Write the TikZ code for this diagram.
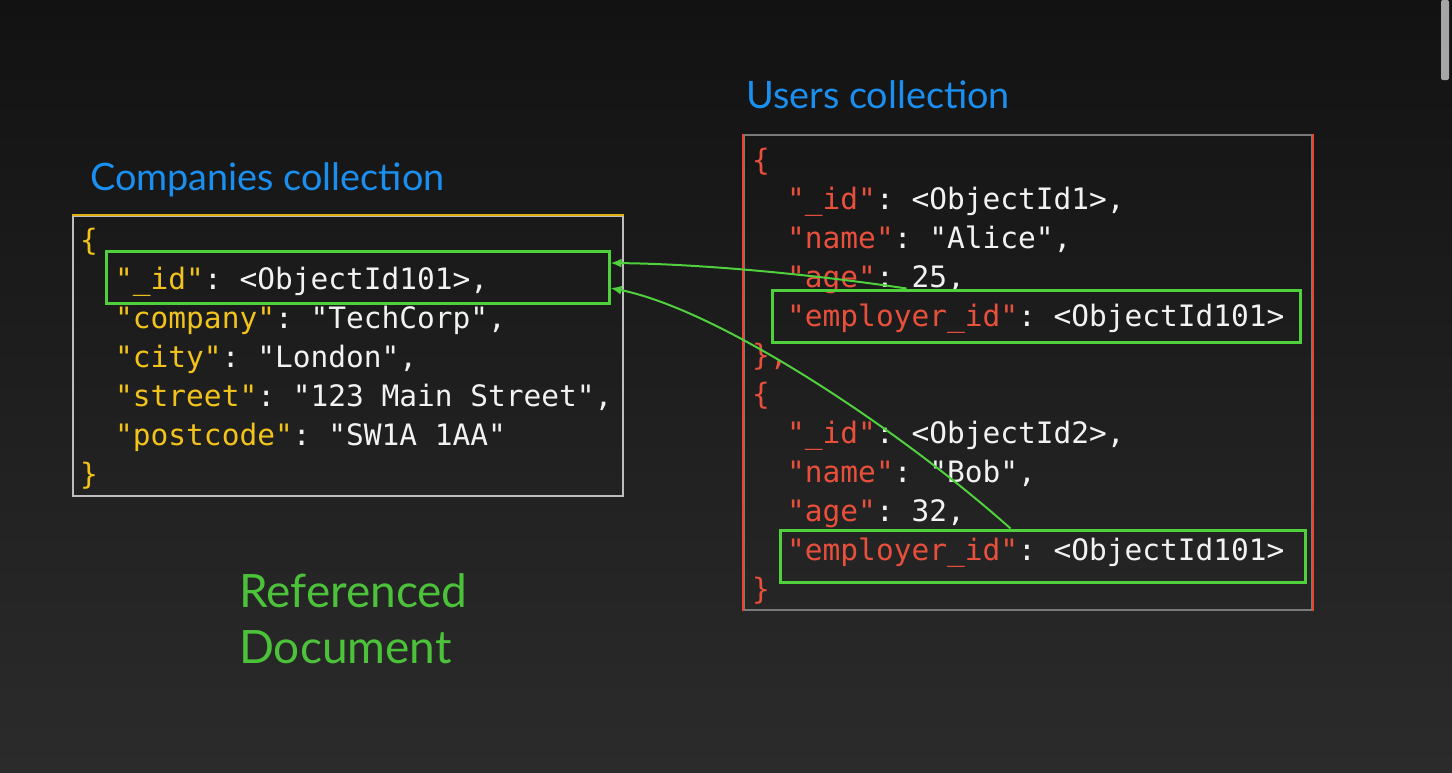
\documentclass[tikz,border=0pt]{standalone}
\usepackage{fontspec}
\setmainfont{Lato}
\setmonofont{DejaVu Sans Mono}
\usepackage{tikz}
\usetikzlibrary{positioning,arrows.meta}

\definecolor{bgtop}{HTML}{121212}
\definecolor{bgbot}{HTML}{2B2B2B}
\definecolor{titleblue}{HTML}{1A8FEF}
\definecolor{refgreen}{HTML}{4CC23A}
\definecolor{hlgreen}{HTML}{4FD03C}
\definecolor{compkey}{HTML}{F2C31B}
\definecolor{userkey}{HTML}{E8503C}
\definecolor{valwhite}{HTML}{F2F2F2}
\definecolor{compedge}{HTML}{E0B010}
\definecolor{boxgray}{HTML}{BDBDBD}
\definecolor{usergray}{HTML}{7A7A7A}
\definecolor{useredge}{HTML}{E8452C}

\tikzset{
  code/.style={anchor=base west,inner sep=0pt,text=valwhite,font=\ttfamily\fontsize{29.5}{39}\selectfont},
  title/.style={anchor=base west,inner sep=0pt,text=titleblue,font=\fontsize{37.8}{42}\selectfont},
  hlbox/.style={draw=hlgreen,line width=3pt,minimum width=#1,minimum height=52pt,inner sep=0pt},
  link/.style={draw=hlgreen,line width=2pt,-{Latex[length=11pt,width=9pt]}},
}
\newcommand{\ck}[1]{\textcolor{compkey}{"#1"}}
\newcommand{\uk}[1]{\textcolor{userkey}{"#1"}}

\begin{document}
\begin{tikzpicture}[x=1pt,y=-1pt]
		\shade[top color=bgtop,bottom color=bgbot] (0,0) rectangle (1452,772);
		\useasboundingbox (0,0) rectangle (1452,772);
		\fill[gray!70,rounded corners=2pt] (1441,0) rectangle (1449,80);

		% titles
		\node(comptitle) [title] at (90,190) {Companies collection};
		\node(usertitle) [title] at (746,108) {Users collection};

		% companies collection
		\node(compbox) [draw=boxgray,line width=1.5pt,minimum width=550pt,minimum height=280pt,inner sep=0pt] at (348,356) {};
		\draw[compedge,line width=2pt] (compbox.north west) -- (compbox.north east);
		\node(c0) [code] at (80,250)  {\textcolor{compkey}{\{}};
		\node(c1) [code] at (115,289) {\ck{\_id}: <ObjectId101>,};
		\node(c2) [code] at (115,328) {\ck{company}: "TechCorp",};
		\node(c3) [code] at (115,367) {\ck{city}: "London",};
		\node(c4) [code] at (115,406) {\ck{street}: "123 Main Street",};
		\node(c5) [code] at (115,445) {\ck{postcode}: "SW1A 1AA"};
		\node(c6) [code] at (80,484)  {\textcolor{compkey}{\}}};

		% users collection
		\node(userbox) [draw=usergray,line width=1.5pt,minimum width=568pt,minimum height=475pt,inner sep=0pt] at (1028,372.5) {};
		\draw[useredge,line width=2pt] (userbox.north west) -- (userbox.south west);
		\draw[useredge,line width=2pt] (userbox.north east) -- (userbox.south east);
		\node(u0)  [code] at (752,170) {\textcolor{userkey}{\{}};
		\node(u1)  [code] at (787,209) {\uk{\_id}: <ObjectId1>,};
		\node(u2)  [code] at (787,248) {\uk{name}: "Alice",};
		\node(u3)  [code] at (787,287) {\uk{age}: 25,};
		\node(u4)  [code] at (787,326) {\uk{employer\_id}: <ObjectId101>};
		\node(u5)  [code] at (752,365) {\textcolor{userkey}{\},}};
		\node(u6)  [code] at (752,404) {\textcolor{userkey}{\{}};
		\node(u7)  [code] at (787,443) {\uk{\_id}: <ObjectId2>,};
		\node(u8)  [code] at (787,482) {\uk{name}: "Bob",};
		\node(u9)  [code] at (787,521) {\uk{age}: 32,};
		\node(u10) [code] at (787,560) {\uk{employer\_id}: <ObjectId101>};
		\node(u11) [code] at (752,599) {\textcolor{userkey}{\}}};

		% highlighted fields
		\node(hlA) [hlbox=503pt] at (357.5,277) {};
		\node(hlB) [hlbox=528pt] at (1036,316) {};
		\node(hlC) [hlbox=525pt] at (1042.5,556) {};

		% references
		\draw[link] ([xshift=136pt]hlB.north west) .. controls (810,274) and (700,264) .. ([yshift=14pt]hlA.east);
		\draw[link] ([xshift=232pt]hlC.north west) .. controls (900,430) and (720,310) .. ([yshift=-11pt]hlA.east);

		\node(refdoc) [anchor=north west,align=left,inner sep=0pt,text=refgreen,font=\fontsize{46}{56}\selectfont] at (239,573) {Referenced\\Document};
	\end{tikzpicture}
\end{document}
